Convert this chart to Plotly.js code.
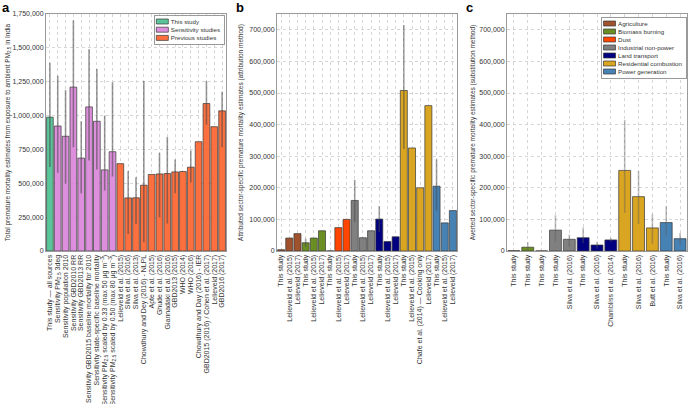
<!DOCTYPE html>
<html><head><meta charset="utf-8">
<script src="https://cdn.plot.ly/plotly-3.0.1.min.js"></script>
<style>html,body{margin:0;padding:0;background:#fff}</style>
</head><body><div id="chart" style="width:688px;height:404px"></div>
<script>
// ---------- Panel a ----------
const aLabels = [
  "This study — all sources",
  "Sensitivity PM<sub>2.5</sub> 3deg",
  "Sensitivity population 2010",
  "Sensitivity GBD2010 RR",
  "Sensitivity GBD2013 RR",
  "Sensitivity GBD2015 baseline mortality for 2010",
  "Sensitivity state-specific baseline mortality",
  "Sensitivity PM<sub>2.5</sub> scaled by 0.33 (max 50 μg m<sup>−3</sup>)",
  "Sensitivity PM<sub>2.5</sub> scaled by 0.50 (max 80 μg m<sup>−3</sup>)",
  "Lelieveld et al. (2015)",
  "Silva et al. (2016)",
  "Silva et al. (2013)",
  "Chowdhury and Dey (2016) - NLPL",
  "Apte et al. (2015)",
  "Ghude et al. (2016)",
  "Giannadaki et al. (2016)",
  "GBD2013 (2015)",
  "WHO (2014)",
  "WHO (2016)",
  "Chowdhury and Day (2016) - IER",
  "GBD2015 (2016) / Cohen et al. (2017)",
  "Lelieveld (2017)",
  "GBD2016 (2017)"
];
const aGroups = [
  "This study",
  "Sensitivity studies","Sensitivity studies","Sensitivity studies","Sensitivity studies",
  "Sensitivity studies","Sensitivity studies","Sensitivity studies","Sensitivity studies",
  "Previous studies","Previous studies","Previous studies","Previous studies","Previous studies",
  "Previous studies","Previous studies","Previous studies","Previous studies","Previous studies",
  "Previous studies","Previous studies","Previous studies","Previous studies"
];
const aValues = [988000, 923000, 847000, 1210000, 686000, 1064000, 958000, 599000, 733000,
  645000, 392000, 393000, 486000, 565000, 569000, 572000, 584000, 587000, 619000, 807000, 1089000, 918000, 1035000];
const aUpper = [1390000, 1294000, 1188000, 1703000, 958000, 1490000, 1344000, 1000000, 1245000,
  null, 590000, 544000, 1255000, null, 725000, 842000, 676000, null, 743000, null, 1255000, null, 1176000];
const aLower = [620000, 577000, 497000, 767000, 426000, 668000, 601000, 446000, 550000,
  null, 126000, 198000, 65000, null, 248000, 203000, 426000, null, 507000, null, 933000, null, 767000];
const aGroupNames = ["This study", "Sensitivity studies", "Previous studies"];
const aGroupColors = ["#5cc49a", "#dd8fdd", "#fc7040"];

// ---------- Sectors ----------
const sectorNames = ["Agriculture", "Biomass burning", "Dust", "Industrial non-power", "Land transport", "Residential combustion", "Power generation"];
const sectorColors = ["#a0522d", "#6b8e23", "#ff4500", "#808080", "#000080", "#daa520", "#4682b4"];

// ---------- Panel b ----------
const bLabels = [
  "This study", "Lelieveld et al. (2015)", "Lelieveld (2017)",
  "This study", "Lelieveld et al. (2015)", "Lelieveld (2017)",
  "This study", "Lelieveld et al. (2015)", "Lelieveld (2017)",
  "This study", "Lelieveld et al. (2015)", "Lelieveld (2017)",
  "This study", "Lelieveld et al. (2015)", "Lelieveld (2017)",
  "This study", "Lelieveld et al. (2015)", "Chafe et al. (2014) — Cooking only", "Lelieveld (2017)",
  "This study", "Lelieveld et al. (2015)", "Lelieveld (2017)"
];
const bSectors = [
  "Agriculture","Agriculture","Agriculture",
  "Biomass burning","Biomass burning","Biomass burning",
  "Dust","Dust","Dust",
  "Industrial non-power","Industrial non-power","Industrial non-power",
  "Land transport","Land transport","Land transport",
  "Residential combustion","Residential combustion","Residential combustion","Residential combustion",
  "Power generation","Power generation","Power generation"
];
const bValues = [4000, 41000, 55000, 26000, 41000, 64000, 500, 74000, 100000, 160000, 42000, 64000,
  101000, 30000, 45000, 508000, 326000, 200000, 460000, 205000, 89000, 128000];
const bUpper = [null, null, null, 39000, null, null, null, null, null, 225000, null, null,
  142000, null, null, 715000, null, null, null, 290000, null, null];
const bLower = [null, null, null, 13000, null, null, null, null, null, 92000, null, null,
  60000, null, null, 323000, null, null, null, 128000, null, null];

// ---------- Panel c ----------
const cLabels = [
  "This study", "This study", "This study",
  "This study", "Silva et al. (2016)",
  "This study", "Silva et al. (2016)", "Chambliss et al. (2014)",
  "This study", "Silva et al. (2016)", "Butt et al. (2016)",
  "This study", "Silva et al. (2016)"
];
const cSectors = [
  "Agriculture", "Biomass burning", "Dust",
  "Industrial non-power", "Industrial non-power",
  "Land transport", "Land transport", "Land transport",
  "Residential combustion", "Residential combustion", "Residential combustion",
  "Power generation", "Power generation"
];
const cValues = [1000, 12000, 500, 66000, 37000, 42000, 19000, 35000, 255000, 172000, 73000, 90000, 39000];
const cUpper = [null, 28000, null, 113000, 52000, 74000, 29000, 41000, 415000, 253000, 116000, 142000, 57000];
const cLower = [null, 1000, null, 29000, 13000, 25000, 8000, 29000, 121000, 85000, 23000, 50000, 18000];

// ---------- Build ----------
const FONT = "Liberation Sans, Arial, Helvetica, sans-serif";
const LEGEND_FONT_SIZE = 6.2;
const BARW = 0.86;

function makeTrace(cats, values, upper, lower, key, name, color, xa, ya, errColor, legendId, showLegend) {
  const idx = cats.map((g, i) => g === key ? i : -1).filter(i => i >= 0);
  return {
    type: "bar", name: name,
    x: idx, y: idx.map(i => values[i]),
    width: idx.map(() => BARW),
    xaxis: xa, yaxis: ya,
    marker: {color: color, line: {color: "rgba(55,55,55,0.7)", width: 1}},
    error_y: {
      type: "data", symmetric: false, visible: true,
      array: idx.map(i => upper[i] == null ? NaN : upper[i] - values[i]),
      arrayminus: idx.map(i => lower[i] == null ? NaN : values[i] - lower[i]),
      color: errColor, thickness: 1.6, width: 0
    },
    legend: legendId, showlegend: showLegend, hoverinfo: "skip"
  };
}

const traces = [];
aGroupNames.forEach((g, k) => traces.push(
  makeTrace(aGroups, aValues, aUpper, aLower, g, g, aGroupColors[k], "x", "y", "rgba(70,70,70,0.55)", "legend", true)));
sectorNames.forEach((s, k) => traces.push(
  makeTrace(bSectors, bValues, bUpper, bLower, s, s, sectorColors[k], "x2", "y2", "rgba(70,70,70,0.5)", "legend2", false)));
sectorNames.forEach((s, k) => traces.push(
  makeTrace(cSectors, cValues, cUpper, cLower, s, s, sectorColors[k], "x3", "y3", "rgba(90,90,90,0.4)", "legend2", true)));

const W = 688, H = 404;
const yDom = [(H - 251) / H, (H - 14) / H];

function xAxis(labels, dom, anchor) {
  return {
    domain: dom, anchor: anchor, range: [-0.5, labels.length - 0.5],
    tickmode: "array", tickvals: labels.map((_, i) => i), ticktext: labels,
    tickangle: -90, tickfont: {family: FONT, size: 7, color: "#333"},
    showline: true, mirror: true, linecolor: "#9a9a9a", linewidth: 1,
    showgrid: true, gridcolor: "#d6d6d6", griddash: "dot", gridwidth: 1,
    zeroline: false, ticks: "", fixedrange: true, automargin: false
  };
}
function yAxis(title, rng, dtick, standoff, anchor) {
  return {
    domain: yDom, anchor: anchor, range: rng, dtick: dtick, tick0: 0, tickformat: ",d",
    tickfont: {family: FONT, size: 7, color: "#333"},
    title: {text: title, font: {family: FONT, size: 6.5, color: "#333"}, standoff: standoff},
    showline: true, mirror: true, linecolor: "#9a9a9a", linewidth: 1,
    showgrid: true, gridcolor: "#d6d6d6", griddash: "dot", gridwidth: 1,
    zeroline: false, ticks: "", fixedrange: true, automargin: false
  };
}

const legendStyle = {
  bgcolor: "#fff", bordercolor: "#999", borderwidth: 1,
  font: {family: FONT, size: LEGEND_FONT_SIZE, color: "#333"}, tracegroupgap: 0, itemwidth: 30
};

const layout = {
  width: W, height: H,
  margin: {l: 0, r: 0, t: 0, b: 0},
  paper_bgcolor: "#fff", plot_bgcolor: "#fff",
  barmode: "overlay",
  font: {family: FONT, size: 7, color: "#333"},
  xaxis: xAxis(aLabels, [46 / W, 226 / W], "y"),
  yaxis: yAxis("Total premature mortality estimates from exposure to ambient PM<sub>2.5</sub> in India", [0, 1750000], 250000, 1, "x"),
  xaxis2: xAxis(bLabels, [277 / W, 457 / W], "y2"),
  yaxis2: yAxis("Attributed sector-specific premature mortality estimates (attribution method)", [0, 750000], 100000, 5, "x2"),
  xaxis3: xAxis(cLabels, [507 / W, 687 / W], "y3"),
  yaxis3: yAxis("Averted sector-specific premature mortality estimates (substitution method)", [0, 750000], 100000, 3, "x3"),
  legend: Object.assign({x: 224 / W, xanchor: "right", y: (H - 15) / H, yanchor: "top"}, legendStyle),
  legend2: Object.assign({x: 686 / W, xanchor: "right", y: (H - 17) / H, yanchor: "top"}, legendStyle),
  annotations: [
    {text: "<b>a</b>", xref: "paper", yref: "paper", x: 0, y: 1.005, xanchor: "left", yanchor: "top", showarrow: false, font: {family: FONT, size: 13, color: "#000"}},
    {text: "<b>b</b>", xref: "paper", yref: "paper", x: 234 / W, y: 1.005, xanchor: "left", yanchor: "top", showarrow: false, font: {family: FONT, size: 13, color: "#000"}},
    {text: "<b>c</b>", xref: "paper", yref: "paper", x: 464 / W, y: 1.005, xanchor: "left", yanchor: "top", showarrow: false, font: {family: FONT, size: 13, color: "#000"}}
  ]
};

// text width measured independently of SVG layout state
const measureCtx = document.createElement("canvas").getContext("2d");
function textWidth(str) {
  measureCtx.font = LEGEND_FONT_SIZE + "px 'Liberation Sans', Arial, sans-serif";
  return measureCtx.measureText(str).width;
}

// Compact the native legends (matplotlib-like tight rows and flat swatches)
function compactLegend(cls, right, top, step) {
  try {
    const lg = document.querySelector("g.infolayer > g." + cls);
    if (!lg) return;
    const items = lg.querySelectorAll("g.traces");
    if (!items.length) return;
    lg.querySelectorAll("g.scrollbox, g.groups").forEach(g => g.setAttribute("transform", "translate(0,0)"));
    lg.querySelectorAll("g.scrollbox").forEach(g => g.removeAttribute("clip-path"));
    let maxW = 0;
    items.forEach((it, i) => {
      it.setAttribute("transform", "translate(0," + (6.5 + i * step) + ")");
      it.querySelectorAll("text").forEach(t => {
        t.setAttribute("x", 17);
        t.querySelectorAll("tspan").forEach(s => { if (s.hasAttribute("x")) s.setAttribute("x", 17); });
        maxW = Math.max(maxW, textWidth(t.textContent || ""));
      });
      it.querySelectorAll("g.legendpoints").forEach(p => p.removeAttribute("transform"));
      it.querySelectorAll("g.legendpoints path").forEach(p => {
        p.setAttribute("d", "M6,2.5H-6V-2.5H6Z");
        p.setAttribute("transform", "translate(8.5,0)");
      });
      it.querySelectorAll("rect").forEach(r => { if (!r.closest("g.legendpoints")) r.setAttribute("height", 0); });
    });
    const w = 17 + maxW + 4, h = 13 + (items.length - 1) * step;
    const bg = lg.querySelector("rect.bg");
    if (bg) { bg.setAttribute("x", 0.5); bg.setAttribute("y", 0.5); bg.setAttribute("width", w); bg.setAttribute("height", h); }
    lg.setAttribute("transform", "translate(" + (right - w) + "," + top + ")");
  } catch (e) { /* keep native legend as drawn */ }
}

Plotly.newPlot("chart", traces, layout, {displayModeBar: false, staticPlot: true}).then(() => {
  compactLegend("legend", 224, 15, 8.2);
  compactLegend("legend2", 686, 17, 8);
});
</script>
</body></html>
